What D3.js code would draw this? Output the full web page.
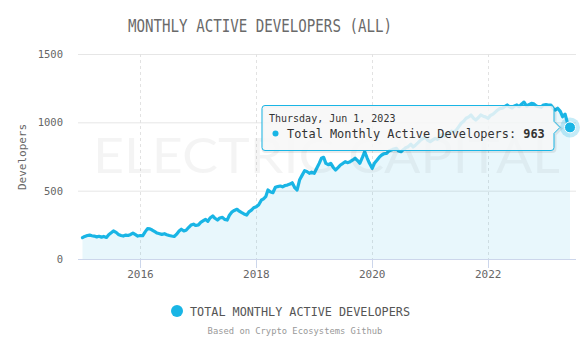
<!DOCTYPE html>
<html><head><meta charset="utf-8">
<script src="https://cdn.jsdelivr.net/npm/d3@7"></script>
<style>
html,body{margin:0;padding:0;background:#fff;}
svg{display:block;}
</style></head>
<body><div id="chart"></div>
<script>
const title = "MONTHLY ACTIVE DEVELOPERS (ALL)";
const seriesName = "Total Monthly Active Developers";
const legendLabel = "TOTAL MONTHLY ACTIVE DEVELOPERS";
const credit = "Based on Crypto Ecosystems Github";
const yAxisTitle = "Developers";
const yTicks = [0, 500, 1000, 1500];
const xTickLabels = ["2016", "2018", "2020", "2022"];
const dates = [
"2015-01-01","2015-01-15","2015-02-01","2015-02-15","2015-03-01","2015-03-15","2015-04-01","2015-04-15","2015-05-01","2015-05-15","2015-06-01","2015-06-15",
"2015-07-01","2015-07-15","2015-08-01","2015-08-15","2015-09-01","2015-09-15","2015-10-01","2015-10-15","2015-11-01","2015-11-15","2015-12-01","2015-12-15",
"2016-01-01","2016-01-15","2016-02-01","2016-02-15","2016-03-01","2016-03-15","2016-04-01","2016-04-15","2016-05-01","2016-05-15","2016-06-01","2016-06-15",
"2016-07-01","2016-07-15","2016-08-01","2016-08-15","2016-09-01","2016-09-15","2016-10-01","2016-10-15","2016-11-01","2016-11-15","2016-12-01","2016-12-15",
"2017-01-01","2017-01-15","2017-02-01","2017-02-15","2017-03-01","2017-03-15","2017-04-01","2017-04-15","2017-05-01","2017-05-15","2017-06-01","2017-06-15",
"2017-07-01","2017-07-15","2017-08-01","2017-08-15","2017-09-01","2017-09-15","2017-10-01","2017-10-15","2017-11-01","2017-11-15","2017-12-01","2017-12-15",
"2018-01-01","2018-01-15","2018-02-01","2018-02-15","2018-03-01","2018-03-15","2018-04-01","2018-04-15","2018-05-01","2018-05-15","2018-06-01","2018-06-15",
"2018-07-01","2018-07-15","2018-08-01","2018-08-15","2018-09-01","2018-09-15","2018-10-01","2018-10-15","2018-11-01","2018-11-15","2018-12-01","2018-12-15",
"2019-01-01","2019-01-15","2019-02-01","2019-02-15","2019-03-01","2019-03-15","2019-04-01","2019-04-15","2019-05-01","2019-05-15","2019-06-01","2019-06-15",
"2019-07-01","2019-07-15","2019-08-01","2019-08-15","2019-09-01","2019-09-15","2019-10-01","2019-10-15","2019-11-01","2019-11-15","2019-12-01","2019-12-15",
"2020-01-01","2020-01-15","2020-02-01","2020-02-15","2020-03-01","2020-03-15","2020-04-01","2020-04-15","2020-05-01","2020-05-15","2020-06-01","2020-06-15",
"2020-07-01","2020-07-15","2020-08-01","2020-08-15","2020-09-01","2020-09-15","2020-10-01","2020-10-15","2020-11-01","2020-11-15","2020-12-01","2020-12-15",
"2021-01-01","2021-01-15","2021-02-01","2021-02-15","2021-03-01","2021-03-15","2021-04-01","2021-04-15","2021-05-01","2021-05-15","2021-06-01","2021-06-15",
"2021-07-01","2021-07-15","2021-08-01","2021-08-15","2021-09-01","2021-09-15","2021-10-01","2021-10-15","2021-11-01","2021-11-15","2021-12-01","2021-12-15",
"2022-01-01","2022-01-15","2022-02-01","2022-02-15","2022-03-01","2022-03-15","2022-04-01","2022-04-15","2022-05-01","2022-05-15","2022-06-01","2022-06-15",
"2022-07-01","2022-07-15","2022-08-01","2022-08-15","2022-09-01","2022-09-15","2022-10-01","2022-10-15","2022-11-01","2022-11-15","2022-12-01","2022-12-15",
"2023-01-01","2023-01-15","2023-02-01","2023-02-15","2023-03-01","2023-03-15","2023-04-01","2023-04-15","2023-05-01","2023-05-15","2023-06-01"
];
const developers = [
156,165,172,175,170,168,162,166,160,165,158,178,
192,205,195,180,172,168,175,172,180,190,178,168,
172,170,200,222,220,212,200,190,185,180,185,178,
172,168,165,180,205,218,205,210,232,248,255,245,
250,268,280,290,275,300,315,298,285,300,305,290,
285,320,345,355,364,350,339,330,322,345,358,375,
383,395,430,440,456,505,490,485,525,530,534,528,
538,541,548,558,520,505,580,610,646,640,627,635,
627,660,700,737,744,700,690,700,670,651,670,688,
700,712,705,712,725,737,720,700,745,785,737,700,
664,700,724,745,761,770,773,790,797,805,810,790,
785,800,815,822,840,820,835,850,870,880,895,870,
858,870,883,875,890,910,900,920,915,935,930,944,
970,993,1010,1030,1040,1054,1030,1017,1035,1054,1045,1040,
1029,1050,1060,1075,1090,1100,1104,1115,1127,1114,1105,1120,
1127,1115,1135,1148,1119,1130,1139,1135,1120,1114,1110,1127,
1130,1127,1127,1100,1090,1103,1080,1041,1060,1000,963
];

const W = 588, H = 346;
const color = "#19b5e5";
const mono = "'DejaVu Sans Mono', 'Liberation Mono', monospace";
const parse = d3.utcParse("%Y-%m-%d");
const data = dates.map((d, i) => ({date: parse(d), value: developers[i]}));

const plotLeft = 78, plotRight = 576, plotTop = 54, plotBottom = 259;

const x = d3.scaleUtc()
  .domain([parse(dates[0]), parse(dates[dates.length - 1])])
  .range([82.5, 570]);
const y = d3.scaleLinear().domain([0, 1500]).range([plotBottom, plotTop]);

const svg = d3.select("#chart").append("svg").attr("width", W).attr("height", H)
  .style("font-family", mono);

// title
svg.append("text").attr("x", 260).attr("y", 31.5).attr("text-anchor", "middle")
  .attr("font-size", 17.5).attr("fill", "#6a6a6a")
  .attr("textLength", 264).attr("lengthAdjust", "spacingAndGlyphs")
  .text(title);

// horizontal grid
svg.append("g").selectAll("line").data(yTicks).join("line")
  .attr("x1", plotLeft).attr("x2", plotRight)
  .attr("y1", d => y(d) + 0.5).attr("y2", d => y(d) + 0.5)
  .attr("stroke", d => d === 0 ? "#ccd6eb" : "#e6e6e6").attr("stroke-width", 1);

// vertical dashed grid
const xTickDates = xTickLabels.map(t => parse(t + "-01-01"));
svg.append("g").selectAll("line").data(xTickDates).join("line")
  .attr("x1", d => Math.round(x(d)) + 0.5).attr("x2", d => Math.round(x(d)) + 0.5)
  .attr("y1", plotTop).attr("y2", plotBottom)
  .attr("stroke", "#e2e2e2").attr("stroke-dasharray", "3,3");

// y labels
svg.append("g").selectAll("text").data(yTicks).join("text")
  .attr("x", 63).attr("y", d => y(d) + 4).attr("text-anchor", "end")
  .attr("font-size", 10.5).attr("fill", "#666").text(d => d);

// y title
svg.append("text").attr("transform", "translate(26,157) rotate(-90)")
  .attr("text-anchor", "middle").attr("font-size", 11).attr("fill", "#666")
  .text(yAxisTitle);

// area + line
const area = d3.area().x(d => x(d.date)).y0(y(0)).y1(d => y(d.value)).curve(d3.curveLinear);
const line = d3.line().x(d => x(d.date)).y(d => y(d.value)).curve(d3.curveLinear);
svg.append("path").datum(data).attr("d", area).attr("fill", color).attr("fill-opacity", 0.1);

// x axis ticks
svg.append("g").selectAll("line").data(xTickDates).join("line")
  .attr("x1", d => Math.round(x(d)) + 0.5).attr("x2", d => Math.round(x(d)) + 0.5)
  .attr("y1", plotBottom + 1).attr("y2", plotBottom + 9)
  .attr("stroke", "#ccd6eb");
svg.append("g").selectAll("text").data(xTickDates).join("text")
  .attr("x", d => x(d)).attr("y", 278).attr("text-anchor", "middle")
  .attr("font-size", 11).attr("fill", "#666").text((d, i) => xTickLabels[i]);

svg.append("path").datum(data).attr("d", line).attr("fill", "none")
  .attr("stroke", color).attr("stroke-width", 3.2).attr("stroke-linejoin", "round").attr("stroke-linecap", "round");

// watermark
svg.append("text").attr("x", 93).attr("y", 173)
  .attr("font-family", "Lato, 'Open Sans', sans-serif").attr("font-weight", 400)
  .attr("font-size", 48).attr("fill", "#000").attr("fill-opacity", 0.045)
  .attr("textLength", 467).attr("lengthAdjust", "spacingAndGlyphs")
  .text("ELECTRIC CAPITAL");

// hover point
const last = data[data.length - 1];
const px = x(last.date), py = y(last.value);
svg.append("circle").attr("cx", px).attr("cy", py).attr("r", 10).attr("fill", color).attr("fill-opacity", 0.25);
svg.append("circle").attr("cx", px).attr("cy", py).attr("r", 5.5).attr("fill", color).attr("stroke", "#fff").attr("stroke-width", 1);

// tooltip
const tx = 262, ty = 105.5, tw = 292, th = 45, r = 3;
const arrowY = py;
const tipPath = `M${tx + r},${ty} H${tx + tw - r} Q${tx + tw},${ty} ${tx + tw},${ty + r}
  V${arrowY - 6} L${tx + tw + 6},${arrowY} L${tx + tw},${arrowY + 6}
  V${ty + th - r} Q${tx + tw},${ty + th} ${tx + tw - r},${ty + th}
  H${tx + r} Q${tx},${ty + th} ${tx},${ty + th - r} V${ty + r} Q${tx},${ty} ${tx + r},${ty} Z`;
svg.append("path").attr("d", tipPath).attr("transform", "translate(1,1)")
  .attr("fill", "none").attr("stroke", "#000").attr("stroke-opacity", 0.08).attr("stroke-width", 3);
svg.append("path").attr("d", tipPath).attr("fill", "rgba(247,247,247,0.85)")
  .attr("stroke", color).attr("stroke-width", 1);
const fmt = d3.utcFormat("%A, %b %-d, %Y");
svg.append("text").attr("x", 269).attr("y", 122).attr("font-size", 10).attr("fill", "#333")
  .text(fmt(last.date));
svg.append("circle").attr("cx", 275.5).attr("cy", 133.5).attr("r", 3).attr("fill", color);
const t2 = svg.append("text").attr("x", 287).attr("y", 138).attr("font-size", 11.9).attr("fill", "#333");
t2.append("tspan").text(seriesName + ": ");
t2.append("tspan").attr("font-weight", "bold").text(last.value);

// legend
svg.append("circle").attr("cx", 177).attr("cy", 311).attr("r", 6).attr("fill", color);
svg.append("text").attr("x", 190).attr("y", 315.5).attr("font-size", 11.8).attr("fill", "#555")
  .attr("textLength", 220).attr("lengthAdjust", "spacingAndGlyphs").text(legendLabel);

// credit
svg.append("text").attr("x", 295).attr("y", 334).attr("text-anchor", "middle")
  .attr("font-size", 8.8).attr("fill", "#999").text(credit);
</script>
</body></html>
